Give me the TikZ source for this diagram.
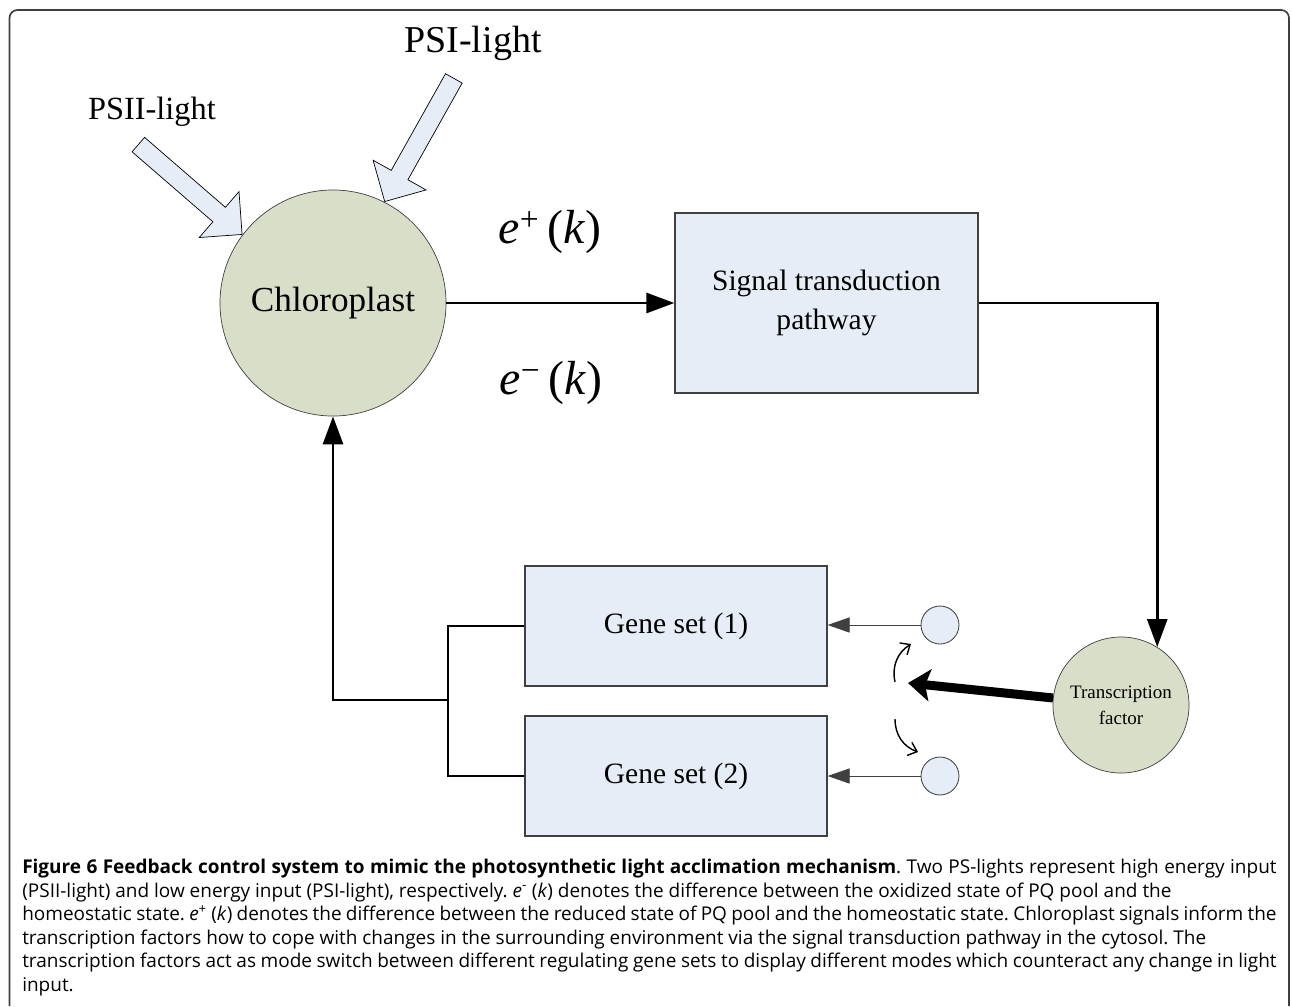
\documentclass[tikz,border=0pt]{standalone}
\usepackage{fontspec}
\setmainfont{Liberation Serif}
\newfontfamily\capfont{Open Sans}
\usetikzlibrary{arrows.meta,shapes.arrows,positioning}
\definecolor{plastgreen}{RGB}{216,222,200}
\definecolor{boxblue}{RGB}{230,237,246}
\definecolor{edgegray}{RGB}{64,64,64}
\begin{document}
\begin{tikzpicture}[x=0.025cm,y=-0.025cm,
  plastcircle/.style={circle,draw=edgegray,line width=0.5pt,fill=plastgreen,inner sep=0pt},
  block/.style={rectangle,draw=edgegray,line width=0.9pt,fill=boxblue,align=center,font=\fontsize{21}{28}\selectfont},
  lightarrow/.style={single arrow,draw=black,line width=0.5pt,fill=boxblue,inner xsep=0pt,inner ysep=0.23cm,single arrow head extend=0.52cm,anchor=tip},
  flow/.style={line width=2.1pt,-{Triangle[length=0.7cm,width=0.5cm]}},
  feed/.style={line width=2.1pt},
  thinflow/.style={draw=edgegray,line width=0.6pt,-{Triangle[length=0.55cm,width=0.38cm]}},
  toggle/.style={line width=1pt,-{Straight Barb[length=0.2cm,width=0.35cm]}},
  push/.style={line width=6.4pt,-{Stealth[length=0.55cm,width=0.8cm,inset=0.12cm]}},
  switchdot/.style={circle,draw=edgegray,line width=0.6pt,fill=boxblue,minimum size=0.95cm,inner sep=0pt},
  lab/.style={font=\fontsize{23}{28}\selectfont},
  errlab/.style={font=\fontsize{34}{40}\selectfont}]
\useasboundingbox (0,0) rectangle (1292,1006);
\draw[edgegray,line width=1.2pt,rounded corners=0.2cm] (9.5,1006) -- (9.5,10) -- (1289,10) -- (1289,1006);

\node[plastcircle,minimum size=5.65cm,font=\fontsize{25}{30}\selectfont] (chloro) at (333,303) {Chloroplast};
\node[block,minimum width=7.575cm,minimum height=4.5cm] (signal) at (826.5,303) {Signal transduction\\pathway};
\node[plastcircle,minimum size=3.4cm,align=center,font=\fontsize{13.5}{18.5}\selectfont] (tf) at (1121,705) {Transcription\\factor};
\node[block,minimum width=7.55cm,minimum height=3cm] (gene1) at (676,626) {Gene set (1)};
\node[block,minimum width=7.55cm,minimum height=3cm] (gene2) at (676,776) {Gene set (2)};
\node[switchdot] (sw1) at (940,625) {};
\node[switchdot] (sw2) at (940,776) {};

\node[lightarrow,minimum height=3.43cm,rotate=-40.9] (psiiarrow) at (chloro.143) {};
\node[lightarrow,minimum height=3.53cm,rotate=-119.3] (psiarrow) at (chloro.63.9) {};
\node[lab] (psii) at (152,112) {PSII-light};
\node[lab,font=\fontsize{27}{32}\selectfont] (psi) at (473,43) {PSI-light};
\node[errlab] (eplus) at (550,232) {\textit{e}\textsuperscript{+}\,(\textit{k})};
\node[errlab] (eminus) at (551,383) {\textit{e}\textsuperscript{−}\,(\textit{k})};

\draw[flow] (chloro) -- (signal);
\draw[flow] (signal.east) -| (tf.58);
\coordinate (branch) at (448,700);
\draw[feed] (gene1.west) -| (branch) |- (gene2.west);
\draw[flow] (branch) -| (chloro.south);
\draw[thinflow] (sw1) -- (sw1 -| gene1.east);
\draw[thinflow] (sw2) -- (sw2 -| gene2.east);

\coordinate (swtip) at (908,683);
\draw[push] (tf) -- (swtip);
\coordinate (upfrom) at (895,682);
\coordinate (upto) at (911,644);
\draw[toggle] (upfrom) to[bend left=35] (upto);
\coordinate (downfrom) at (895,719);
\coordinate (downto) at (918,752);
\draw[toggle] (downfrom) to[bend right=35] (downto);

\node[anchor=north west,inner sep=0pt,text width=31.35cm,align=justify,font=\capfont\fontsize{13.5}{16.7}\selectfont] (caption) at (22,859) {\noindent\frenchspacing\textbf{Figure 6 Feedback control system to mimic the photosynthetic light acclimation mechanism}. Two PS-lights represent high energy input\linebreak
(PSII-light) and low energy input (PSI-light), respectively. \textit{e}\textsuperscript{-} (\textit{k}) denotes the difference between the oxidized state of PQ pool and the\newline
homeostatic state. \textit{e}\textsuperscript{+} (\textit{k}) denotes the difference between the reduced state of PQ pool and the homeostatic state. Chloroplast signals inform the\linebreak
transcription factors how to cope with changes in the surrounding environment via the signal transduction pathway in the cytosol. The\newline
transcription factors act as mode switch between different regulating gene sets to display different modes which counteract any change in light\linebreak
input.};
\end{tikzpicture}
\end{document}
